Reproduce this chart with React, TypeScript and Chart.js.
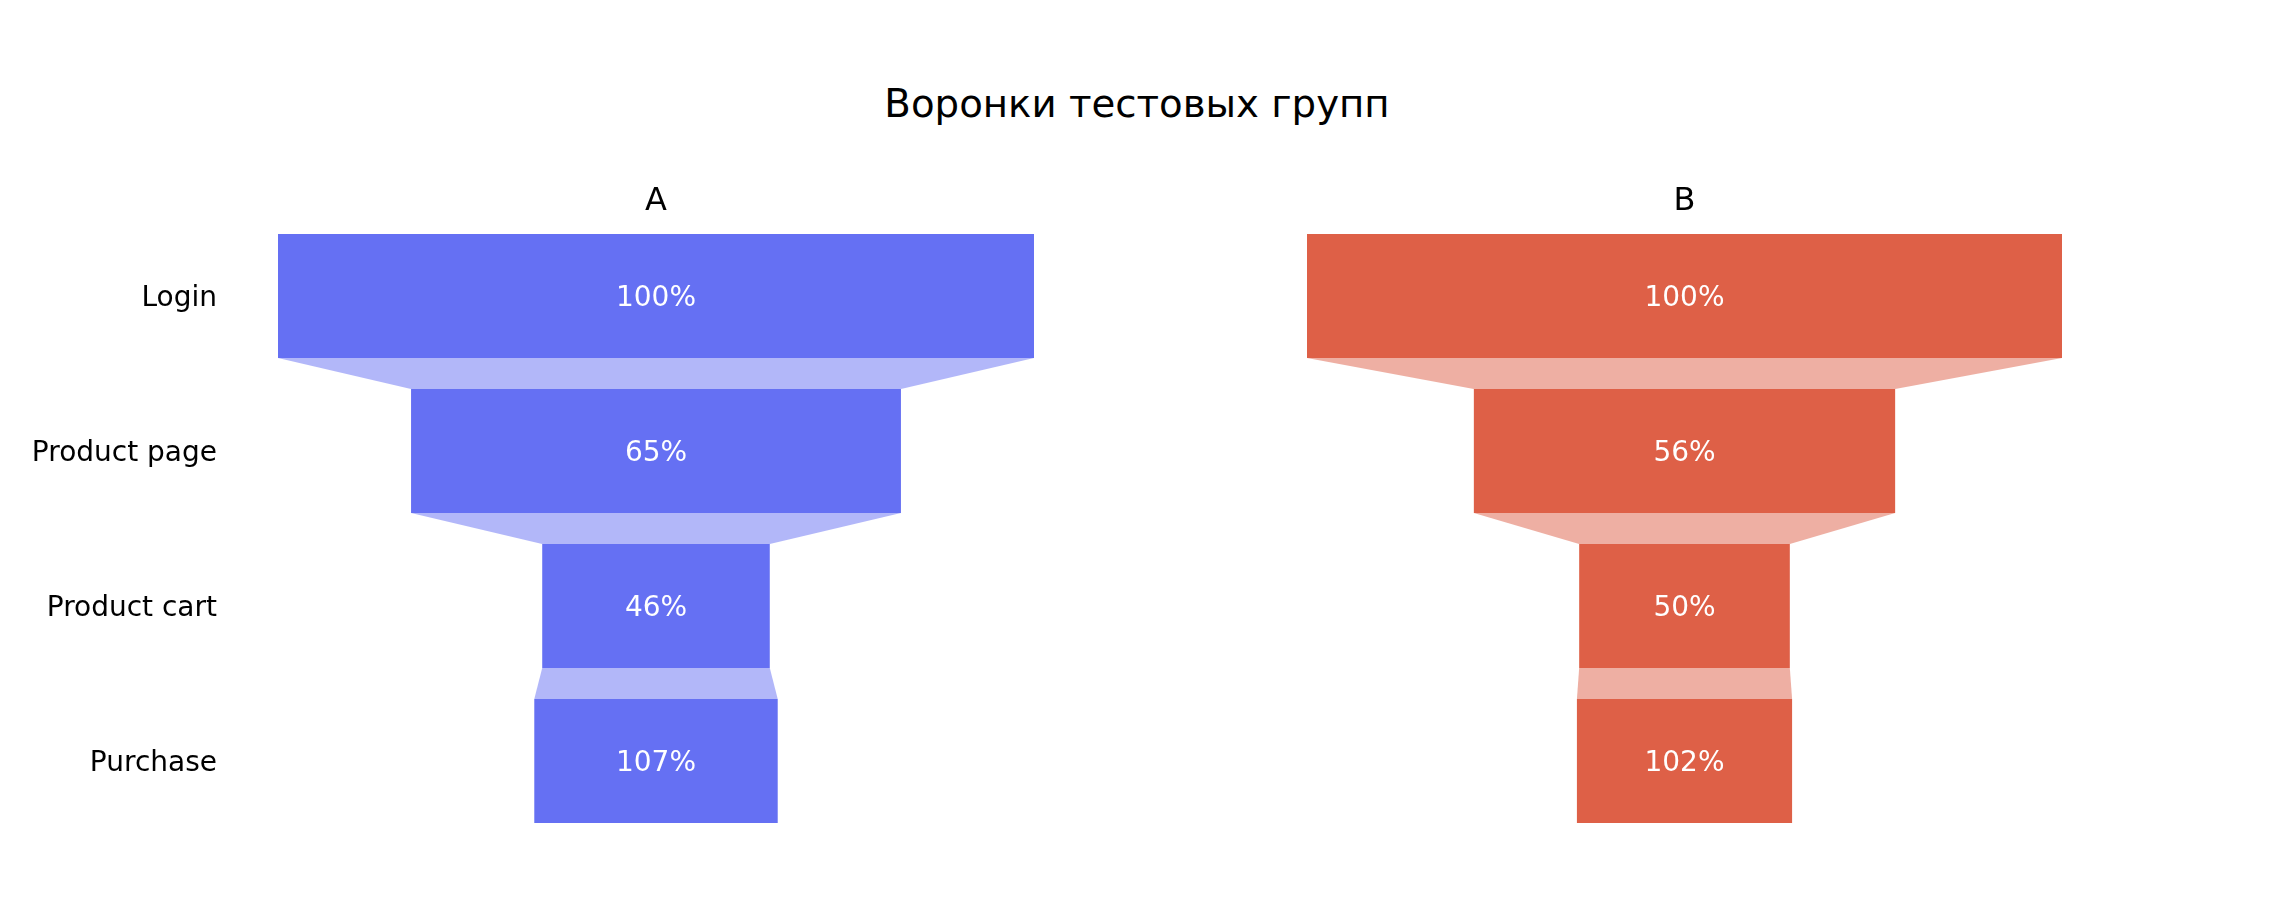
import React, { useEffect, useRef } from 'react';
import { Chart, registerables } from 'chart.js';

Chart.register(...registerables);

// ---- data ----
const mainTitle = 'Воронки тестовых групп';
const stages = ['Login', 'Product page', 'Product cart', 'Purchase'];
const groupNames = ['A', 'B'];
const groupA = [1000, 648, 301, 322];
const groupB = [1000, 558, 279, 285];

const colorA = 'rgb(101,112,243)';
const connectorA = 'rgba(101,112,243,0.5)';
const colorB = 'rgb(222,96,71)';
const connectorB = 'rgba(222,96,71,0.5)';

const FONT = '"DejaVu Sans", Verdana, sans-serif';

function percentPrevious(values: number[]): string[] {
  return values.map((v, i) => (i === 0 ? '100%' : Math.round((v / values[i - 1]) * 100) + '%'));
}

function makeFunnelPlugin(connector: string, labels: string[]) {
  return {
    id: 'funnelExtras',
    beforeDatasetsDraw(chart: any) {
      const ctx = chart.ctx;
      const meta = chart.getDatasetMeta(0);
      const els = meta.data;
      ctx.save();
      ctx.fillStyle = connector;
      for (let i = 0; i < els.length - 1; i++) {
        const a = els[i].getProps(['x', 'y', 'base', 'height'], true);
        const b = els[i + 1].getProps(['x', 'y', 'base', 'height'], true);
        const aL = Math.min(a.x, a.base), aR = Math.max(a.x, a.base);
        const bL = Math.min(b.x, b.base), bR = Math.max(b.x, b.base);
        const aBottom = a.y + a.height / 2;
        const bTop = b.y - b.height / 2;
        ctx.beginPath();
        ctx.moveTo(aL, aBottom);
        ctx.lineTo(aR, aBottom);
        ctx.lineTo(bR, bTop);
        ctx.lineTo(bL, bTop);
        ctx.closePath();
        ctx.fill();
      }
      ctx.restore();
    },
    afterDatasetsDraw(chart: any) {
      const ctx = chart.ctx;
      const meta = chart.getDatasetMeta(0);
      ctx.save();
      ctx.fillStyle = '#ffffff';
      ctx.font = `28px ${FONT}`;
      ctx.textAlign = 'center';
      ctx.textBaseline = 'middle';
      meta.data.forEach((el: any, i: number) => {
        const p = el.getProps(['x', 'y', 'base'], true);
        const cx = (p.x + p.base) / 2;
        ctx.fillText(labels[i], cx, p.y + 3);
      });
      ctx.restore();
    },
  };
}

function buildConfig(values: number[], color: string, connector: string, title: string, showAxis: boolean) {
  const maxV = Math.max(...values);
  return {
    type: 'bar' as const,
    data: {
      labels: stages,
      datasets: [
        {
          data: values.map((v) => [-v / 2, v / 2]),
          backgroundColor: color,
          borderWidth: 0,
          barPercentage: 0.8,
          categoryPercentage: 1,
        },
      ],
    },
    options: {
      animation: false as const,
      responsive: false,
      devicePixelRatio: 1,
      indexAxis: 'y' as const,
      layout: { padding: { top: 0, bottom: 83.5, left: 0, right: 0 } },
      plugins: {
        legend: { display: false },
        tooltip: { enabled: false },
        title: {
          display: true,
          text: title,
          fullSize: false,
          color: '#000000',
          font: { size: 32, family: FONT, weight: 'normal' as const, lineHeight: 1 },
          padding: { top: 186, bottom: 0.5 },
        },
      },
      scales: {
        x: { display: false, min: -maxV / 2, max: maxV / 2 },
        y: showAxis
          ? {
              position: 'left' as const,
              grid: { display: false, drawTicks: false },
              border: { display: false },
              ticks: { padding: 61, color: '#000000', labelOffset: 3, font: { size: 28, family: FONT } },
              afterFit(scale: any) {
                scale.width = 278;
              },
            }
          : { display: false },
      },
    },
    plugins: [makeFunnelPlugin(connector, percentPrevious(values))],
  };
}

export default function App() {
  const refA = useRef<HTMLCanvasElement>(null);
  const refB = useRef<HTMLCanvasElement>(null);

  useEffect(() => {
    const chartA = new Chart(refA.current as HTMLCanvasElement, buildConfig(groupA, colorA, connectorA, groupNames[0], true) as any);
    const chartB = new Chart(refB.current as HTMLCanvasElement, buildConfig(groupB, colorB, connectorB, groupNames[1], false) as any);
    return () => {
      chartA.destroy();
      chartB.destroy();
    };
  }, []);

  return (
    <div style={{ position: 'fixed', left: 0, top: 0, width: 2274, height: 922, background: '#ffffff', overflow: 'hidden' }}>
      <div
        style={{
          position: 'absolute',
          left: 0,
          top: 85,
          width: 2274,
          textAlign: 'center',
          fontFamily: FONT,
          fontSize: 38.7,
          lineHeight: '38px',
          color: '#000000',
          whiteSpace: 'nowrap',
        }}
      >
        {mainTitle}
      </div>
      <canvas ref={refA} width={1034} height={922} style={{ position: 'absolute', left: 0, top: 0, width: 1034, height: 922 }} />
      <canvas ref={refB} width={755} height={922} style={{ position: 'absolute', left: 1307, top: 0, width: 755, height: 922 }} />
    </div>
  );
}
